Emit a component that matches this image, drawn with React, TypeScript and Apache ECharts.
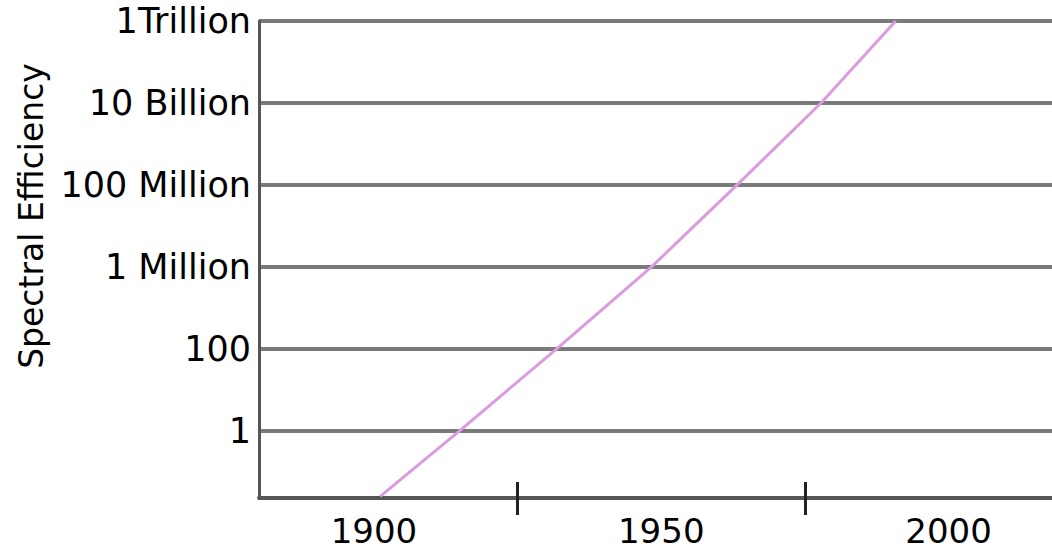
import React, { useEffect, useRef } from "react";
import * as echarts from "echarts";

// Level index of each horizontal grid line and its label
const levelValues = [0, 1, 2, 3, 4, 5];
const levelLabels = ["1", "100", "1 Million", "100 Million", "10 Billion", "1Trillion"];

// Year labels and tick marks on the x axis
const yearLabels = [1900, 1950, 2000];
const yearTicks = [1925, 1975];

// Trend line: year and level (position between grid lines)
const trendYears = [1901.1, 1914.9, 1931.8, 1948.3, 1963.2, 1977.8, 1990.8];
const trendLevels = [-0.8, 0, 1, 2, 3, 4, 5];

const yAxisTitle = "Spectral Efficiency";

export default function App() {
  const ref = useRef<HTMLDivElement>(null);

  useEffect(() => {
    if (!ref.current) return;
    const chart = echarts.init(ref.current, null, { renderer: "svg" });
    const font = "DejaVu Sans";
    const data = trendYears.map((y, i) => [y, trendLevels[i]]);
    chart.setOption({
      animation: false,
      backgroundColor: "#ffffff",
      grid: { left: 259, right: 0, top: 21, bottom: 52, containLabel: false },
      xAxis: [
        {
          type: "value",
          position: "bottom",
          min: 1880,
          max: 2018,
          axisLine: { show: true, onZero: false, lineStyle: { color: "#555555", width: 4 } },
          axisTick: {
            show: true,
            customValues: yearTicks,
            length: 17,
            lineStyle: { color: "#222222", width: 3 },
          },
          axisLabel: {
            show: true,
            customValues: yearLabels,
            formatter: (v: number) => String(v),
            fontSize: 34,
            fontFamily: font,
            color: "#000000",
            margin: 16,
          },
          splitLine: { show: false },
        },
        {
          type: "value",
          position: "bottom",
          min: 1880,
          max: 2018,
          axisLine: { show: false, onZero: false },
          axisTick: {
            show: true,
            inside: true,
            customValues: yearTicks,
            length: 16,
            lineStyle: { color: "#222222", width: 3 },
          },
          axisLabel: { show: false },
          splitLine: { show: false },
        },
      ],
      yAxis: {
        type: "value",
        min: -0.82,
        max: 5,
        axisLine: { show: true, onZero: false, lineStyle: { color: "#555555", width: 3 } },
        axisTick: { show: false, customValues: levelValues },
        axisLabel: {
          customValues: levelValues,
          formatter: (v: number) => {
            const i = levelValues.indexOf(Math.round(v));
            return i >= 0 && Math.abs(v - Math.round(v)) < 1e-6 ? levelLabels[i] : "";
          },
          fontSize: 35,
          fontFamily: font,
          color: "#000000",
          margin: 8,
        },
        splitLine: { show: true, lineStyle: { color: "#7a7a7a", width: 4 } },
      },
      graphic: [
        {
          type: "text",
          x: 31,
          y: 216,
          rotation: Math.PI / 2,
          style: {
            text: yAxisTitle,
            fontSize: 33,
            fontFamily: font,
            fill: "#000000",
            align: "center",
            verticalAlign: "middle",
          },
        },
      ],
      series: [
        {
          type: "line",
          data,
          symbol: "none",
          smooth: false,
          clip: true,
          lineStyle: { color: "#dd9ade", width: 3 },
        },
      ],
    });
    return () => chart.dispose();
  }, []);

  return (
    <div
      ref={ref}
      style={{ position: "fixed", left: 0, top: 0, width: 1052, height: 550 }}
    />
  );
}
